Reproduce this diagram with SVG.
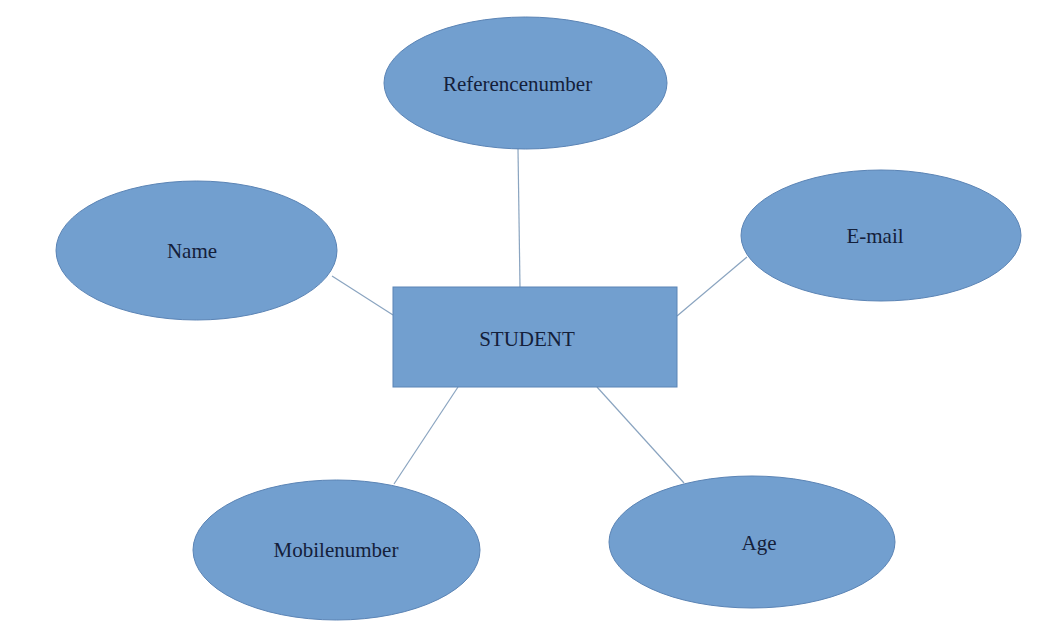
<svg xmlns="http://www.w3.org/2000/svg" width="1053" height="624" viewBox="0 0 1053 624">
<style>
.shape{fill:#729fcf;stroke:#5b84b5;stroke-width:1}
.lbl{font-family:"Liberation Serif","Times New Roman",serif;font-size:21px;fill:#14203a;text-anchor:middle}
.conn{stroke:#8aa4c0;stroke-width:1.2;fill:none}
</style>
<rect width="1053" height="624" fill="#ffffff"/>
<g id="connectors">
<line class="conn" x1="518" y1="149" x2="520" y2="287"/>
<line class="conn" x1="332" y1="276" x2="393" y2="315"/>
<line class="conn" x1="747" y1="257" x2="677" y2="316"/>
<line class="conn" x1="458" y1="387" x2="394" y2="484"/>
<line class="conn" x1="597" y1="387" x2="684" y2="483"/>
</g>
<g id="student">
<rect class="shape" x="393" y="287" width="284" height="100"/>
<text class="lbl" x="527" y="346">STUDENT</text>
</g>
<g id="referencenumber">
<ellipse class="shape" cx="525.5" cy="83" rx="141.5" ry="66"/>
<text class="lbl" x="517.5" y="91">Referencenumber</text>
</g>
<g id="name">
<ellipse class="shape" cx="196.5" cy="250.5" rx="140.5" ry="69.5"/>
<text class="lbl" x="192" y="258">Name</text>
</g>
<g id="email">
<ellipse class="shape" cx="881" cy="235.5" rx="140" ry="65.5"/>
<text class="lbl" x="875" y="243">E-mail</text>
</g>
<g id="mobilenumber">
<ellipse class="shape" cx="336.5" cy="550" rx="143.5" ry="70"/>
<text class="lbl" x="336" y="557">Mobilenumber</text>
</g>
<g id="age">
<ellipse class="shape" cx="752" cy="542" rx="143" ry="66"/>
<text class="lbl" x="759" y="550">Age</text>
</g>
</svg>
